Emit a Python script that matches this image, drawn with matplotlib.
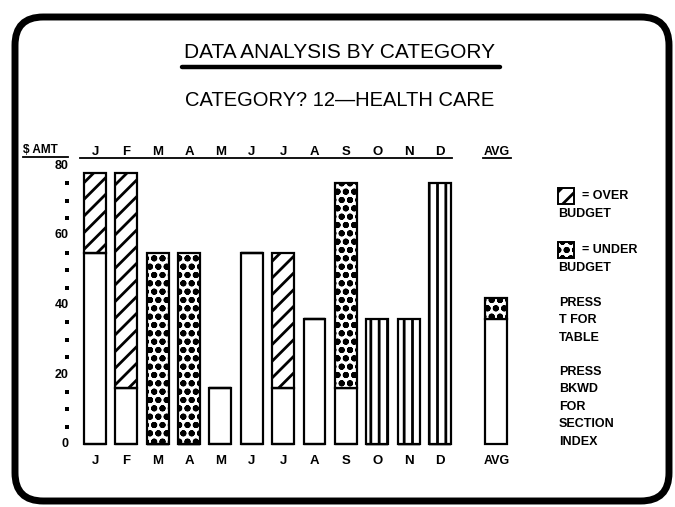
import matplotlib
matplotlib.use("Agg")
import matplotlib.pyplot as plt
from matplotlib.patches import FancyBboxPatch
import numpy as np

# data (dollars)
months = ["J", "F", "M", "A", "M", "J", "J", "A", "S", "O", "N", "D"]
within = [55, 16, 0, 0, 16, 55, 16, 36, 16, 0, 0, 0]     # plain part
over = [23, 62, 0, 0, 0, 0, 39, 0, 0, 0, 0, 0]           # over budget
under = [0, 0, 55, 55, 0, 0, 0, 0, 59, 0, 0, 0]          # under budget
striped = [0, 0, 0, 0, 0, 0, 0, 0, 0, 36, 36, 75]        # striped bars
avg_within = 36
avg_under = 6
yticks = [0, 20, 40, 60, 80]

W, H = 675, 507
FONT = ["Liberation Sans Narrow", "Liberation Sans", "DejaVu Sans"]
plt.rcParams["font.family"] = FONT
plt.rcParams["hatch.linewidth"] = 2.0
plt.rcParams["hatch.color"] = "black"
UNDER_HATCH = "oo"

fig = plt.figure(figsize=(W / 100, H / 100), dpi=100)
fig.patch.set_facecolor("white")

# axes covers the whole screen; month index 0 sits at px 95, 31.36 px apart,
# y = 0 at px 444 from the top, 3.475 px per dollar
step, x0 = 31.36, 95
ppd, y0 = 3.475, 444
ax = fig.add_axes([0, 0, 1, 1])
ax.set_xlim(-x0 / step, (W - x0) / step)
ax.set_ylim(-(H - y0) / ppd, y0 / ppd)
ax.axis("off")


def fx(px):
    return (px - x0) / step


def fy(py):
    return (y0 - py) / ppd


x = np.arange(len(months))
avg_x = 12.8
bw = 0.70
lw = 1.6
kw = dict(width=bw, edgecolor="black", linewidth=lw, zorder=3)

ax.bar(x, within, color="white", **kw)
ax.bar(x, over, bottom=within, color="white", hatch="//", **kw)
ax.bar(x, under, bottom=within, color="white", hatch=UNDER_HATCH, **kw)
ax.bar(x, striped, color="white", hatch="||", **kw)
ax.bar([avg_x], [avg_within], color="white", **kw)
ax.bar([avg_x], [avg_under], bottom=[avg_within], color="white",
       hatch=UNDER_HATCH, **kw)

# y scale: labels every 20, dots every 5
for v in yticks:
    ax.text(fx(69), v, str(v), ha="right", va="center", fontsize=9,
            fontweight="bold")
dots = [v for v in range(5, 80, 5) if v % 20]
ax.plot([fx(67)] * len(dots), dots, "s", color="black", markersize=2.6,
        markeredgewidth=0, linestyle="none")

# month letters, top and bottom
for i, m in enumerate(months):
    ax.text(i, fy(152), m, ha="center", va="center", fontsize=9.5,
            fontweight="bold")
    ax.text(i, fy(461), m, ha="center", va="center", fontsize=9.5,
            fontweight="bold")
ax.text(avg_x, fy(152), "AVG", ha="center", va="center", fontsize=9,
        fontweight="bold")
ax.text(avg_x, fy(461), "AVG", ha="center", va="center", fontsize=9,
        fontweight="bold")
ax.text(fx(23), fy(150), "$ AMT", ha="left", va="center", fontsize=8.5,
        fontweight="bold")
ax.plot([fx(23), fx(68)], [fy(157)] * 2, color="black", lw=1.3)
ax.plot([fx(80), fx(452)], [fy(158)] * 2, color="black", lw=1.3)
ax.plot([fx(483), fx(511)], [fy(158)] * 2, color="black", lw=1.3)

# titles
ax.text(fx(340), fy(52), "DATA ANALYSIS BY CATEGORY", ha="center",
        va="center", fontsize=15)
ax.plot([fx(182), fx(500)], [fy(67)] * 2, color="black", lw=3.2,
        solid_capstyle="round")
ax.text(fx(340), fy(100), "CATEGORY? 12\u2014HEALTH CARE", ha="center",
        va="center", fontsize=14.5)

# legend
lx = 558
for yc, hatch, word in [(196, "//", "= OVER"), (250, UNDER_HATCH, "= UNDER")]:
    ax.bar([fx(lx + 8)], [16 / ppd], bottom=[fy(yc + 8)], width=16 / step,
           color="white", edgecolor="black", linewidth=1.4, hatch=hatch)
    ax.text(fx(lx + 24), fy(yc), word, ha="left", va="center", fontsize=9,
            fontweight="bold")
    ax.text(fx(lx), fy(yc + 18), "BUDGET", ha="left", va="center",
            fontsize=9, fontweight="bold")

notes = [(303, "PRESS"), (320, "T FOR"), (338, "TABLE"),
         (372, "PRESS"), (389, "BKWD"), (407, "FOR"),
         (424, "SECTION"), (442, "INDEX")]
for yy, s in notes:
    ax.text(fx(lx + 1), fy(yy), s, ha="left", va="center", fontsize=9,
            fontweight="bold")

# rounded screen frame
frame = FancyBboxPatch((fx(15), fy(501)), fx(669) - fx(15), fy(17) - fy(501),
                       boxstyle="round,pad=0,rounding_size=0.9",
                       mutation_aspect=step / ppd,
                       facecolor="none", edgecolor="black", linewidth=5.0,
                       zorder=5)
ax.add_patch(frame)

fig.savefig("out.png", dpi=100, facecolor="white")
